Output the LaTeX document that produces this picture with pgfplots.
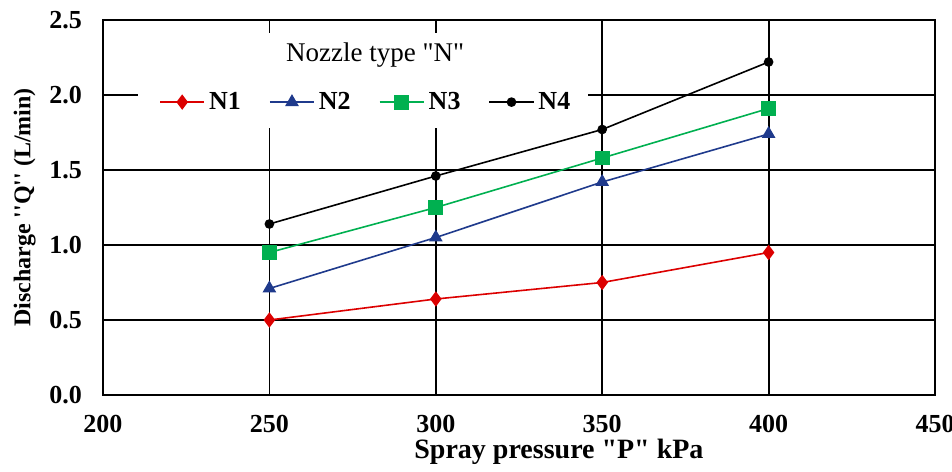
\documentclass[border=0pt]{standalone}
\usepackage{fontspec}
\setmainfont{Liberation Serif}[Ligatures=TeXOff]
\usepackage{pgfplots}
\pgfplotsset{compat=1.18}
\definecolor{cN1}{RGB}{220,0,0}
\definecolor{cN2}{RGB}{31,58,140}
\definecolor{cN3}{RGB}{0,176,80}
\begin{document}
\begin{tikzpicture}
\useasboundingbox (-51.5pt,-38pt) rectangle (424.5pt,197.5pt);
\begin{axis}[
  scale only axis,
  width=416pt, height=187.5pt,
  xmin=200, xmax=450, ymin=0, ymax=2.5,
  xtick={200,250,...,450}, ytick={0,0.5,...,2.5},
  grid=major,
  major grid style={black, line width=0.9pt},
  axis line style={black, line width=1pt},
  major tick length=0pt,
  font=\fontsize{13}{15}\selectfont,
  tick label style={font=\fontsize{13}{15}\selectfont\bfseries},
  /pgf/number format/assume math mode=true,
  yticklabel style={/pgf/number format/fixed, /pgf/number format/precision=1, /pgf/number format/fixed zerofill, xshift=-7pt},
  xticklabel style={yshift=-6.5pt, /pgf/number format/1000 sep=},
  xlabel={\fontsize{14}{16}\selectfont\bfseries Spray pressure "P" kPa},
  ylabel={\fontsize{12}{14}\selectfont\bfseries Discharge ''Q'' (L/min)},
  xlabel style={at={(ticklabel cs:0.548)}, anchor=near ticklabel, yshift=3.5pt},
  ylabel style={yshift=0pt},
  legend columns=4,
  legend style={draw=none, fill=none, at={(rel axis cs:0.317,0.781)}, anchor=center,
    font=\fontsize{13}{15}\selectfont\bfseries,
    /tikz/every even column/.append style={column sep=12pt}},
  legend image code/.code={\draw[mark repeat=2, mark phase=2] plot coordinates {(0cm,0cm) (0.39cm,0cm) (0.78cm,0cm)};},
  every axis plot/.append style={line width=0.8pt},
]
\fill[white] (rel axis cs:0.042,0.712) rectangle (rel axis cs:0.583,0.965);
\node[font=\fontsize{13.5}{15}\selectfont] at (rel axis cs:0.327,0.907) {Nozzle type "N"};
\addplot[cN1, mark=diamond*, mark size=3.2pt, mark options={solid}] coordinates {
  (250,0.50) (300,0.64) (350,0.75) (400,0.95)};
\addlegendentry{N1}
\addplot[cN2, mark=triangle*, mark size=3.2pt] coordinates {
  (250,0.71) (300,1.05) (350,1.42) (400,1.74)};
\addlegendentry{N2}
\addplot[cN3, mark=square*, mark size=3.3pt] coordinates {
  (250,0.95) (300,1.25) (350,1.58) (400,1.91)};
\addlegendentry{N3}
\addplot[black, mark=*, mark size=2pt] coordinates {
  (250,1.14) (300,1.46) (350,1.77) (400,2.22)};
\addlegendentry{N4}
\end{axis}
\end{tikzpicture}
\end{document}
